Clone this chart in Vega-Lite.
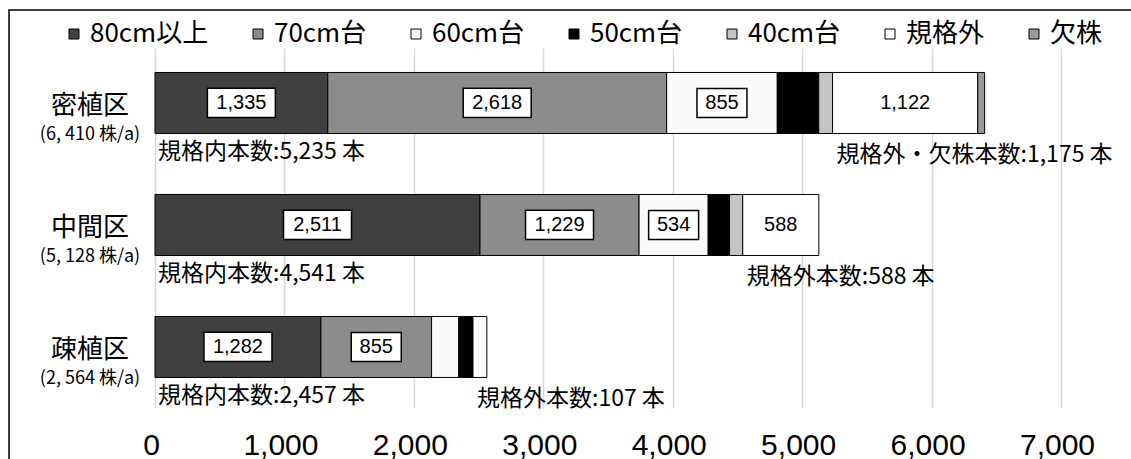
{
  "$schema": "https://vega.github.io/schema/vega-lite/v6.json",
  "autosize": {"type": "none"},
  "padding": {"left": 9, "top": 10, "right": 0, "bottom": 0},
  "width": 1140,
  "height": 470,
  "background": "white",
  "config": {
    "font": "Noto Sans CJK JP",
    "view": {"stroke": "#000000", "strokeWidth": 1.5, "fill": "white"}
  },
  "datasets": {
    "seg": [
      {"zone": "密植区", "cat": "80cm以上", "n": 1335, "label": "1,335"},
      {"zone": "密植区", "cat": "70cm台", "n": 2618, "label": "2,618"},
      {"zone": "密植区", "cat": "60cm台", "n": 855, "label": "855"},
      {"zone": "密植区", "cat": "50cm台", "n": 320, "label": ""},
      {"zone": "密植区", "cat": "40cm台", "n": 107, "label": ""},
      {"zone": "密植区", "cat": "規格外", "n": 1122, "label": "1,122"},
      {"zone": "密植区", "cat": "欠株", "n": 53, "label": ""},
      {"zone": "中間区", "cat": "80cm以上", "n": 2511, "label": "2,511"},
      {"zone": "中間区", "cat": "70cm台", "n": 1229, "label": "1,229"},
      {"zone": "中間区", "cat": "60cm台", "n": 534, "label": "534"},
      {"zone": "中間区", "cat": "50cm台", "n": 165, "label": ""},
      {"zone": "中間区", "cat": "40cm台", "n": 102, "label": ""},
      {"zone": "中間区", "cat": "規格外", "n": 588, "label": "588"},
      {"zone": "疎植区", "cat": "80cm以上", "n": 1282, "label": "1,282"},
      {"zone": "疎植区", "cat": "70cm台", "n": 855, "label": "855"},
      {"zone": "疎植区", "cat": "60cm台", "n": 210, "label": ""},
      {"zone": "疎植区", "cat": "50cm台", "n": 110, "label": ""},
      {"zone": "疎植区", "cat": "規格外", "n": 107, "label": ""}
    ],
    "zones": [
      {"zone": "密植区", "sub": "(6, 410 株/a)", "inText": "規格内本数:5,235 本", "outText": "規格外・欠株本数:1,175 本", "inTotal": 5235},
      {"zone": "中間区", "sub": "(5, 128 株/a)", "inText": "規格内本数:4,541 本", "outText": "規格外本数:588 本", "inTotal": 4541},
      {"zone": "疎植区", "sub": "(2, 564 株/a)", "inText": "規格内本数:2,457 本", "outText": "規格外本数:107 本", "inTotal": 2457}
    ]
  },
  "resolve": {"axis": {"x": "independent"}},
  "layer": [
    {
      "data": {"name": "seg"},
      "transform": [
        {"stack": "n", "groupby": ["zone"], "as": ["x0", "x1"]}
      ],
      "mark": {"type": "bar", "stroke": "#000000", "strokeWidth": 1},
      "encoding": {
        "y": {
          "field": "zone", "type": "nominal", "axis": null,
          "scale": {"domain": ["密植区", "中間区", "疎植区"], "range": [38, 398], "paddingInner": 0.5, "paddingOuter": 0.2254, "align": 0.445}
        },
        "x": {
          "field": "x0", "type": "quantitative",
          "scale": {"domain": [0, 7000], "range": [146, 1052], "nice": false, "zero": true},
          "axis": {
            "orient": "bottom", "offset": -72, "values": [0, 1000, 2000, 3000, 4000, 5000, 6000, 7000],
            "labelExpr": "format(datum.value, ',.0f')", "grid": false, "domain": false, "ticks": false, "tickSize": 0,
            "labelFontSize": 30, "labelFont": "Liberation Sans", "labelColor": "#000000",
            "labelPadding": 22, "labelOffset": -4, "title": null, "labelFlush": false, "labelOverlap": false
          }
        },
        "x2": {"field": "x1"},
        "color": {
          "field": "cat", "type": "nominal",
          "scale": {
            "domain": ["80cm以上", "70cm台", "60cm台", "50cm台", "40cm台", "規格外", "欠株"],
            "range": ["#404040", "#8c8c8c", "#fafafa", "#000000", "#c4c4c4", "#ffffff", "#9a9a9a"]
          },
          "legend": {
            "title": null, "orient": "none", "legendX": 52, "legendY": 11, "direction": "horizontal",
            "symbolType": "square", "symbolSize": 100, "symbolStrokeColor": "#000000", "symbolStrokeWidth": 1,
            "labelFontSize": 26, "labelFont": "Noto Sans CJK JP", "labelColor": "#000000",
            "labelOffset": 3, "columnPadding": 36, "padding": 0, "labelLimit": 300
          }
        }
      }
    },
    {
      "data": {"name": "seg"},
      "transform": [
        {"stack": "n", "groupby": ["zone"], "as": ["x0", "x1"]},
        {"calculate": "(datum.x0 + datum.x1) / 2", "as": "xm"},
        {"filter": "datum.label != '' && datum.cat != '規格外'"}
      ],
      "mark": {"type": "point", "filled": true, "fill": "#ffffff", "stroke": "#000000", "strokeWidth": 1.5, "opacity": 1, "fillOpacity": 1},
      "encoding": {
        "y": {"field": "zone", "type": "nominal"},
        "x": {
          "field": "xm", "type": "quantitative",
          "axis": {
            "orient": "top", "labels": false, "ticks": false, "domain": false, "grid": true,
            "gridColor": "#d9d9d9", "gridWidth": 1.5, "values": [0, 1000, 2000, 3000, 4000, 5000, 6000, 7000], "title": null
          }
        },
        "shape": {"condition": {"test": "length(datum.label) > 3", "value": "M-1,-0.43H1V0.43H-1Z"}, "value": "M-1,-0.58H1V0.58H-1Z"},
        "size": {"condition": {"test": "length(datum.label) > 3", "value": 4624}, "value": 2500}
      }
    },
    {
      "data": {"name": "seg"},
      "transform": [
        {"stack": "n", "groupby": ["zone"], "as": ["x0", "x1"]},
        {"calculate": "(datum.x0 + datum.x1) / 2", "as": "xm"},
        {"filter": "datum.label != ''"}
      ],
      "mark": {"type": "text", "font": "Liberation Sans", "fontSize": 20, "color": "#000000", "baseline": "middle", "align": "center"},
      "encoding": {
        "y": {"field": "zone", "type": "nominal"},
        "x": {"field": "xm", "type": "quantitative", "axis": null},
        "text": {"field": "label"}
      }
    },
    {
      "data": {"name": "zones"},
      "mark": {"type": "text", "fontSize": 26, "color": "#000000", "align": "center", "baseline": "middle", "dx": -65, "dy": 3},
      "encoding": {
        "y": {"field": "zone", "type": "nominal"},
        "x": {"datum": 0, "type": "quantitative", "axis": null},
        "text": {"field": "zone"}
      }
    },
    {
      "data": {"name": "zones"},
      "mark": {"type": "text", "fontSize": 18, "color": "#000000", "align": "center", "baseline": "middle", "dx": -65, "dy": 32},
      "encoding": {
        "y": {"field": "zone", "type": "nominal"},
        "x": {"datum": 0, "type": "quantitative", "axis": null},
        "text": {"field": "sub"}
      }
    },
    {
      "data": {"name": "zones"},
      "mark": {"type": "text", "fontSize": 23, "color": "#000000", "align": "left", "baseline": "middle", "dx": 3, "dy": 49},
      "encoding": {
        "y": {"field": "zone", "type": "nominal"},
        "x": {"datum": 0, "type": "quantitative", "axis": null},
        "text": {"field": "inText"}
      }
    },
    {
      "data": {"name": "zones"},
      "mark": {"type": "text", "fontSize": 23, "color": "#000000", "align": "left", "baseline": "middle", "dx": 4, "dy": 52},
      "encoding": {
        "y": {"field": "zone", "type": "nominal"},
        "x": {"field": "inTotal", "type": "quantitative", "axis": null},
        "text": {"field": "outText"}
      }
    }
  ]
}
